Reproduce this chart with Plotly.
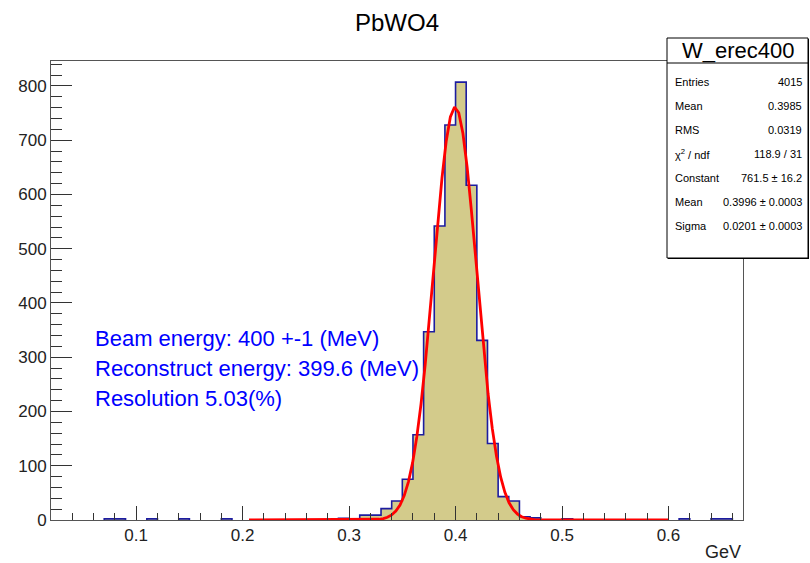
import numpy as np
import plotly.graph_objects as go

# ---------------- data ----------------
title = "PbWO4"
hist_name = "W_erec400"
x_label = "GeV"
bin_start = 0.02
bin_width = 0.01
counts = [0, 0, 0, 0, 0, 2, 2, 0, 0, 2,
          0, 0, 2, 0, 0, 0, 2, 0, 0, 0,
          0, 0, 0, 0, 0, 0, 0, 3, 0, 9,
          9, 21, 35, 75, 157, 347, 542, 728, 807, 617,
          331, 141, 43, 35, 6, 4, 0, 0, 2, 0,
          0, 0, 0, 0, 0, 0, 0, 0, 0, 2,
          0, 0, 2, 2, 0]
fit_constant = 761.5
fit_mean = 0.3996
fit_sigma = 0.0201
fit_range = [0.206, 0.6]
stat_labels = ["Entries", "Mean", "RMS", "χ<sup>2</sup> / ndf", "Constant", "Mean", "Sigma"]
stat_values = ["4015", "0.3985", "0.0319", "118.9 / 31", "761.5 ± 16.2",
               "0.3996 ± 0.0003", "0.0201 ± 0.0003"]
info_lines = ["Beam energy: 400 +-1 (MeV)",
              "Reconstruct energy: 399.6 (MeV)",
              "Resolution 5.03(%)"]
x_range = [0.02, 0.67]
y_range = [0, 846]

# ---------------- layout geometry (pixels) ----------------
W, H = 810, 563
L, R, T, B = 51, 743, 61, 520
FONT = "Liberation Sans, Arial, Helvetica, sans-serif"


def px_x(p):
    return (p - L) / (R - L)


def px_y(p):
    return (B - p) / (B - T)


counts_arr = np.array(counts, dtype=float)
edges = bin_start + bin_width * np.arange(len(counts) + 1)
centers = edges[:-1] + bin_width / 2

# outline path through runs of non-empty bins
ox, oy = [], []
i = 0
n = len(counts)
while i < n:
    if counts[i] > 0:
        ox.append(edges[i]); oy.append(0)
        while i < n and counts[i] > 0:
            ox += [edges[i], edges[i + 1]]
            oy += [counts[i], counts[i]]
            i += 1
        ox.append(edges[i]); oy.append(0)
        ox.append(None); oy.append(None)
    else:
        i += 1

fx = np.linspace(fit_range[0], fit_range[1], 101)
fy = fit_constant * np.exp(-0.5 * ((fx - fit_mean) / fit_sigma) ** 2)

fig = go.Figure()
fig.add_trace(go.Bar(x=centers, y=counts_arr, width=bin_width,
                     marker=dict(color="#d3cb8b", line=dict(width=0)),
                     hoverinfo="skip"))
fig.add_trace(go.Scatter(x=ox, y=oy, mode="lines",
                         line=dict(color="#1c1ca0", width=1.6),
                         connectgaps=False, hoverinfo="skip"))
fig.add_trace(go.Scatter(x=fx, y=fy, mode="lines",
                         line=dict(color="#ff0000", width=2.8),
                         hoverinfo="skip"))

axis_common = dict(showgrid=False, zeroline=False, showline=True, linecolor="#555555",
                   linewidth=1, mirror=True, ticks="inside", tickcolor="#333333",
                   tickfont=dict(family=FONT, size=17, color="#222222"))

fig.update_xaxes(range=x_range, tick0=0, dtick=0.1, ticklen=14, tickwidth=1,
                 minor=dict(ticks="inside", dtick=0.02, tick0=0, ticklen=7,
                            tickcolor="#333333", tickwidth=1),
                 **axis_common)
fig.update_yaxes(range=y_range, tick0=0, dtick=100, ticklen=21, tickwidth=1,
                 minor=dict(ticks="inside", dtick=20, tick0=0, ticklen=11,
                            tickcolor="#333333", tickwidth=1),
                 **axis_common)

shapes = []
# stats box
bx0, bx1, by0, by1, bdiv = 667, 808, 38, 258, 63
shapes.append(dict(type="rect", xref="paper", yref="paper",
                   x0=px_x(bx0 + 1), x1=px_x(bx1 + 1), y0=px_y(by1 + 1), y1=px_y(by0 + 1),
                   line=dict(width=0), fillcolor="#000000", layer="above"))
shapes.append(dict(type="rect", xref="paper", yref="paper",
                   x0=px_x(bx0), x1=px_x(bx1), y0=px_y(by1), y1=px_y(by0),
                   line=dict(color="#000000", width=1), fillcolor="#ffffff", layer="above"))
shapes.append(dict(type="line", xref="paper", yref="paper",
                   x0=px_x(bx0), x1=px_x(bx1), y0=px_y(bdiv), y1=px_y(bdiv),
                   line=dict(color="#000000", width=1), layer="above"))

ann = []
ann.append(dict(text=title, xref="paper", yref="paper", x=px_x(397), y=px_y(22),
                xanchor="center", yanchor="middle", showarrow=False,
                font=dict(family=FONT, size=24, color="#000000")))
ann.append(dict(text=hist_name, xref="paper", yref="paper", x=px_x((bx0 + bx1) / 2 + 1), y=px_y(50),
                xanchor="center", yanchor="middle", showarrow=False,
                font=dict(family=FONT, size=22, color="#000000")))
row_y0, row_dy = 82, 24
for k, (lab, val) in enumerate(zip(stat_labels, stat_values)):
    yy = px_y(row_y0 + k * row_dy)
    ann.append(dict(text=lab, xref="paper", yref="paper", x=px_x(673), y=yy,
                    xanchor="left", yanchor="middle", showarrow=False,
                    font=dict(family=FONT, size=11, color="#000000")))
    ann.append(dict(text=val, xref="paper", yref="paper", x=px_x(804), y=yy,
                    xanchor="right", yanchor="middle", showarrow=False,
                    font=dict(family=FONT, size=11, color="#000000")))
for k, line in enumerate(info_lines):
    ann.append(dict(text=line, xref="paper", yref="paper", x=px_x(93), y=px_y(339 + k * 29.5),
                    xanchor="left", yanchor="middle", showarrow=False,
                    font=dict(family=FONT, size=22, color="#0000ff")))
ann.append(dict(text=x_label, xref="paper", yref="paper", x=px_x(743), y=px_y(552),
                xanchor="right", yanchor="middle", showarrow=False,
                font=dict(family=FONT, size=18, color="#222222")))

fig.update_layout(width=W, height=H, margin=dict(l=L, r=W - R, t=T, b=H - B),
                  paper_bgcolor="#ffffff", plot_bgcolor="#ffffff",
                  showlegend=False, bargap=0, shapes=shapes, annotations=ann,
                  font=dict(family=FONT))

fig.write_html("out.html")
